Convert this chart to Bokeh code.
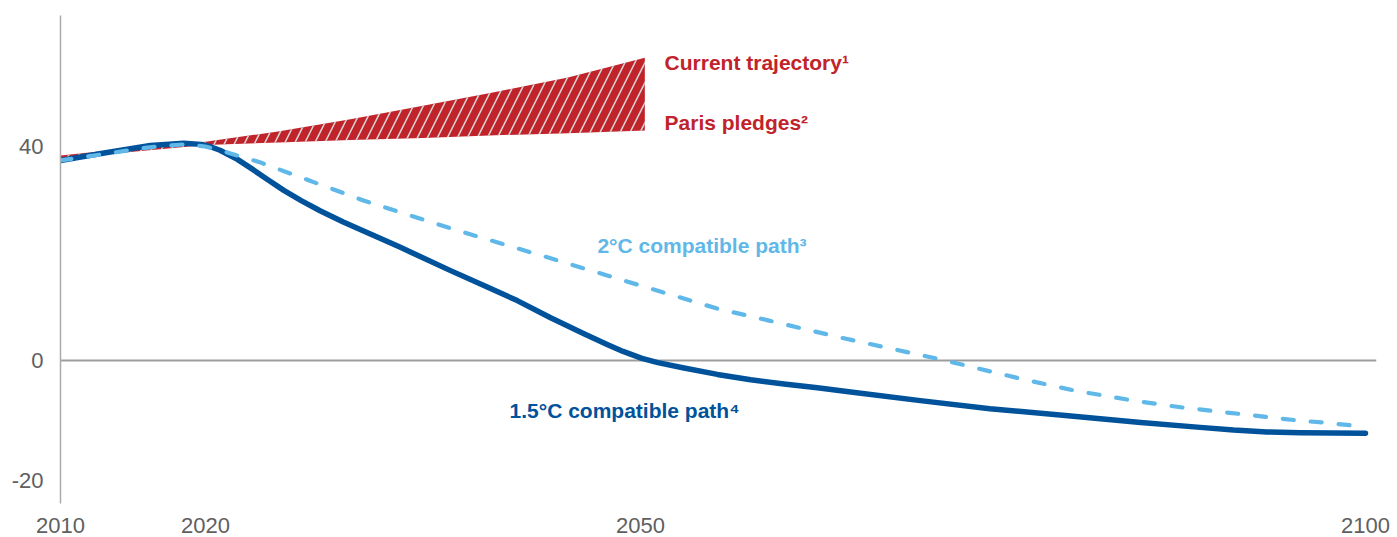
from bokeh.plotting import figure
from bokeh.models import Range1d, FixedTicker, Span
from bokeh.core.properties import value
from bokeh.embed import file_html
from bokeh.resources import INLINE

# ---- data ----
x_ticks = [2010, 2020, 2050, 2100]
y_ticks = [40, 0, -20]
y_tick_labels = ["40", "0", "-20"]

years_15 = [2010, 2012.8, 2016.2, 2018.5, 2019.7, 2020.3, 2021.0, 2022.2, 2023.1, 2024.3,
            2025.4, 2026.6, 2027.9, 2029.5, 2033.4, 2036.9, 2039.2, 2041.5, 2043.8,
            2046.1, 2047.7, 2048.8, 2050.1, 2051.2, 2053.0, 2055.3, 2057.6, 2059.9,
            2062.2, 2064.5, 2069.3, 2074.1, 2079.3, 2084.5, 2088.6, 2090.9, 2093.2,
            2095.5, 2100]
vals_15 = [37.4, 38.7, 40.2, 40.6, 40.4, 40.0, 39.3, 37.6, 36.0, 33.8,
           31.8, 29.9, 28.0, 25.9, 21.2, 16.8, 14.0, 11.2, 8.0,
           5.0, 3.0, 1.7, 0.4, -0.4, -1.4, -2.6, -3.6, -4.4,
           -5.1, -5.9, -7.5, -9.0, -10.3, -11.6, -12.5, -13.0, -13.35,
           -13.5, -13.6]

years_2 = [2010, 2013, 2016, 2018.5, 2020, 2021.5, 2023.8, 2027.2, 2030.9, 2034.6, 2036.9,
           2043.8, 2047.7, 2051.6, 2055.3, 2058.8, 2064.1, 2070.7, 2076.2, 2079.9,
           2084.0, 2087.4, 2095.3, 2097.1, 2100]
vals_2 = [37.4, 38.6, 39.8, 40.4, 40.0, 38.9, 37.0, 33.6, 29.9, 26.7, 24.7,
          19.1, 15.9, 12.7, 9.7, 7.5, 4.1, 0.2, -3.4, -5.6,
          -7.5, -8.8, -11.2, -11.6, -12.4]

band_years = [2010, 2015, 2020, 2025, 2030, 2035, 2040, 2045, 2050.3]
band_current = [38.3, 39.7, 40.9, 42.8, 45.1, 47.6, 50.2, 52.9, 56.6]
band_paris = [37.6, 39.0, 40.3, 40.75, 41.2, 41.6, 42.1, 42.5, 43.0]

labels = ["Current trajectory\u00b9", "Paris pledges\u00b2",
          "2\u00b0C compatible path\u00b3", "1.5\u00b0C compatible path\u2074"]

RED = "#c1232b"
DARK = "#00529b"
LIGHT = "#5fb8e8"

p = figure(width=1396, height=536, output_backend="svg", toolbar_location=None,
           x_range=Range1d(2010, 2100.76), y_range=Range1d(-26.73, 64.49),
           min_border_left=60, min_border_right=20, min_border_top=15, min_border_bottom=33)
p.outline_line_color = None
p.xgrid.visible = False
p.ygrid.visible = False
p.background_fill_color = "white"

# axes
p.xaxis.ticker = FixedTicker(ticks=x_ticks)
p.xaxis.axis_line_color = None
p.xaxis.major_tick_line_color = None
p.xaxis.minor_tick_line_color = None
p.xaxis.major_label_standoff = 8
p.xaxis.major_label_text_font = "Liberation Sans"
p.xaxis.major_label_text_font_size = "22px"
p.xaxis.major_label_text_color = "#606060"

# y tick positions (the -20 label sits a little lower in the original artwork)
y_tick_pos = [40, 0, -22.4]
p.yaxis.ticker = FixedTicker(ticks=y_tick_pos)
p.yaxis.major_label_overrides = {pos: lab for pos, lab in zip(y_tick_pos, y_tick_labels)}
p.yaxis.axis_line_color = "#aaaaaa"
p.yaxis.axis_line_width = 1.5
p.yaxis.major_tick_line_color = None
p.yaxis.minor_tick_line_color = None
p.yaxis.major_label_standoff = 11
p.yaxis.major_label_text_font = "Liberation Sans"
p.yaxis.major_label_text_font_size = "22px"
p.yaxis.major_label_text_color = "#606060"

zero = Span(location=0, dimension="width", line_color="#9d9d9d", line_width=2, level="underlay")
p.add_layout(zero)

# band
p.varea(x=band_years, y1=band_paris, y2=band_current, fill_color=RED,
        hatch_pattern="/", hatch_color="#d8d8d8", hatch_scale=20, hatch_weight=1.5)

p.line(years_15, vals_15, line_color=DARK, line_width=5.5, line_join="round", line_cap="round")
p.line(years_2, vals_2, line_color=LIGHT, line_width=4.2, line_dash="11 17",
       line_join="round", line_cap="round")

common = dict(text_font=value("Liberation Sans"), text_font_style="bold", text_font_size="21px",
              text_baseline="middle", text_align="left")
p.text(x=[2051.66, 2051.66], y=[55.7, 44.5], text=labels[:2], text_color=RED, **common)
p.text(x=[2047.03], y=[21.5], text=[labels[2]], text_color=LIGHT, **common)
p.text(x=[2040.97], y=[-9.35], text=[labels[3]], text_color=DARK, **common)

open("out.html", "w").write(file_html(p, INLINE))
